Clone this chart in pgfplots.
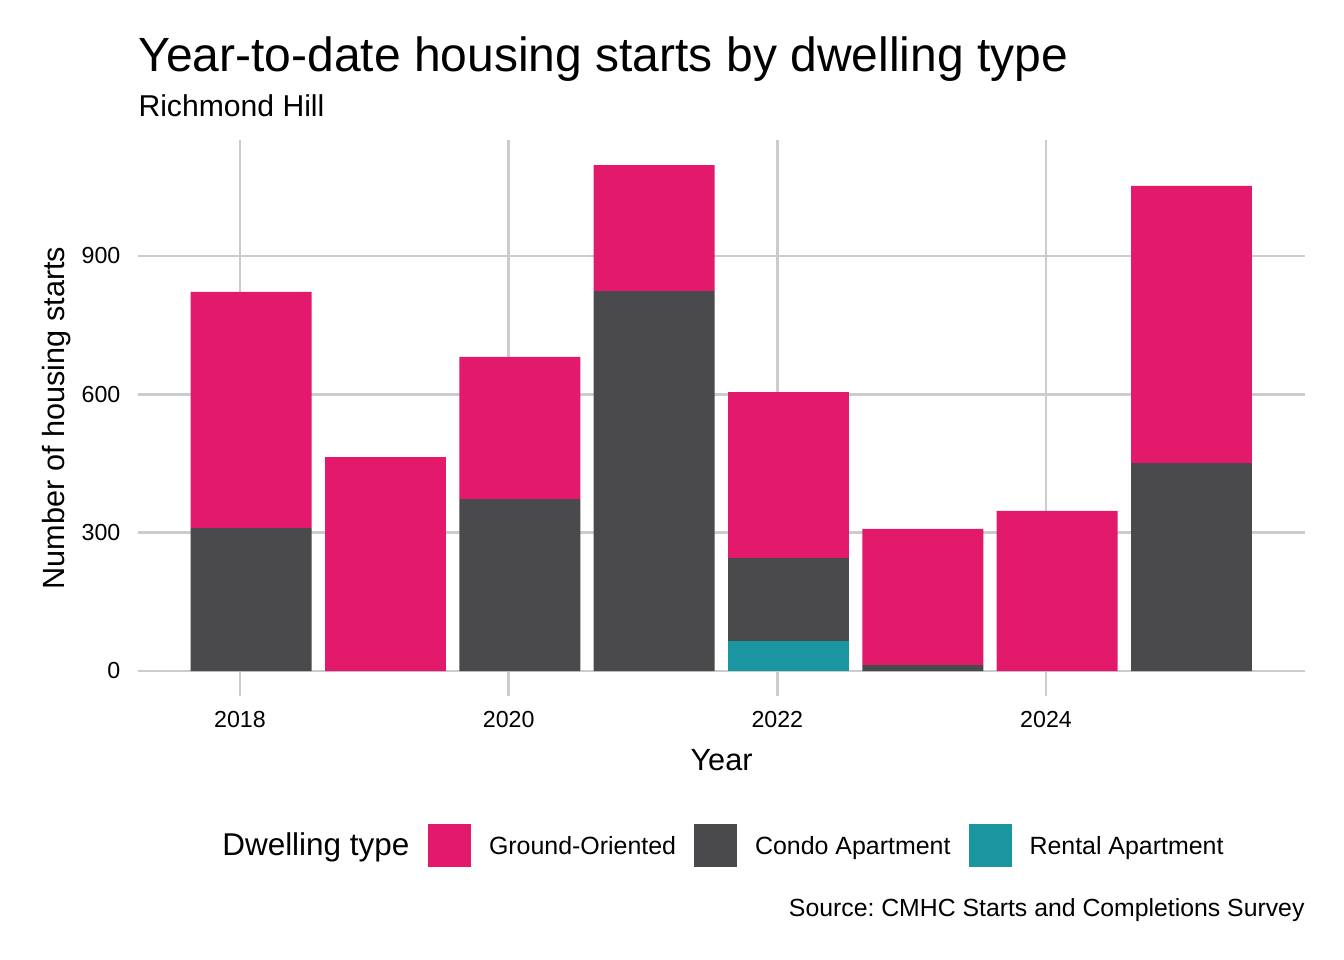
\documentclass[border=0pt]{standalone}
\usepackage{pgfplots}
\pgfplotsset{compat=1.18}
\usepackage{pgfplotstable}
\usepackage{fontspec}
\setmainfont{Liberation Sans}
\frenchspacing

\definecolor{ground}{HTML}{E31A6C}
\definecolor{condo}{HTML}{4A494B}
\definecolor{rental}{HTML}{1A96A0}
\definecolor{gridc}{HTML}{CCCCCC}

% year-to-date starts, bars sit at end of January of each year
\pgfplotstableread{
year     rental condo ground
2018.083 0      310   512
2019.083 0      0     464
2020.083 0      373   308
2021.083 0      824   273
2022.083 65     180   360
2023.083 0      13    295
2024.083 0      0     347
2025.083 0      451   601
}\starts

\pgfplotsset{
  sq legend/.style={legend image code/.code={%
    \fill[##1] (0bp,-4.69bp) rectangle (16.125bp,11.435bp);}},
}

\begin{document}
\begin{tikzpicture}
\path[fill=white] (0,0) rectangle (504bp,360bp);

\begin{axis}[
    at={(51.75bp,99bp)}, anchor=south west,
    scale only axis,
    width=437.625bp, height=208.5bp,
    xmin=2017.2407, xmax=2025.928,
    ymin=-54.2, ymax=1151.6,
    ybar stacked, bar width=0.9,
    xtick={2018,2020,2022,2024},
    xticklabels={2018,2020,2022,2024},
    ytick={0,300,600,900},
    yticklabels={0,300,600,900},
    grid=major,
    major grid style={gridc, line width=1.1bp},
    axis line style={draw=none},
    major tick length=0pt,
    tick label style={font=\fontsize{8.7bp}{10bp}\selectfont, inner sep=0pt},
    xticklabel style={yshift=-5.6bp},
    yticklabel style={xshift=-6.4bp},
    xlabel={Year},
    ylabel={Number of housing starts},
    label style={font=\fontsize{11.5bp}{13bp}\selectfont, inner sep=0pt},
    xlabel style={at={(axis description cs:0.5,-0.1331)}, anchor=base},
    ylabel style={at={(axis description cs:-0.0626,0.5)}, anchor=base},
    reverse legend,
    legend columns=-1,
    legend style={
      draw=none, fill=none, inner sep=0pt, outer sep=0pt,
      at={(0.2485,-0.268)}, anchor=west,
      font=\fontsize{9.35bp}{11bp}\selectfont,
      nodes={inner sep=0pt, anchor=base west},
      /tikz/every odd column/.append style={column sep=6.75bp},
      /tikz/every even column/.append style={column sep=6.75bp},
    },
]
\addplot[fill=rental, draw=none, sq legend] table[x=year, y=rental] {\starts};
\addlegendentry{Rental Apartment}
\addplot[fill=condo, draw=none, sq legend] table[x=year, y=condo] {\starts};
\addlegendentry{Condo Apartment}
\addplot[fill=ground, draw=none, sq legend] table[x=year, y=ground] {\starts};
\addlegendentry{Ground-Oriented}
\end{axis}

\begin{scope}[x=0.375bp, y=-0.375bp, shift={(0,360bp)}]
  \node[anchor=base west, inner sep=0pt, font=\fontsize{18bp}{20bp}\selectfont]
    at (138,72) {Year-to-date housing starts by dwelling type};
  \node[anchor=base west, inner sep=0pt, font=\fontsize{11.3bp}{13bp}\selectfont]
    at (138,117) {Richmond Hill};
  \node[anchor=base east, inner sep=0pt, font=\fontsize{11.8bp}{13bp}\selectfont]
    at (410,856) {Dwelling type};
  \node[anchor=base east, inner sep=0pt, font=\fontsize{9.3bp}{11bp}\selectfont]
    at (1305,917) {Source: CMHC Starts and Completions Survey};
\end{scope}
\end{tikzpicture}
\end{document}
